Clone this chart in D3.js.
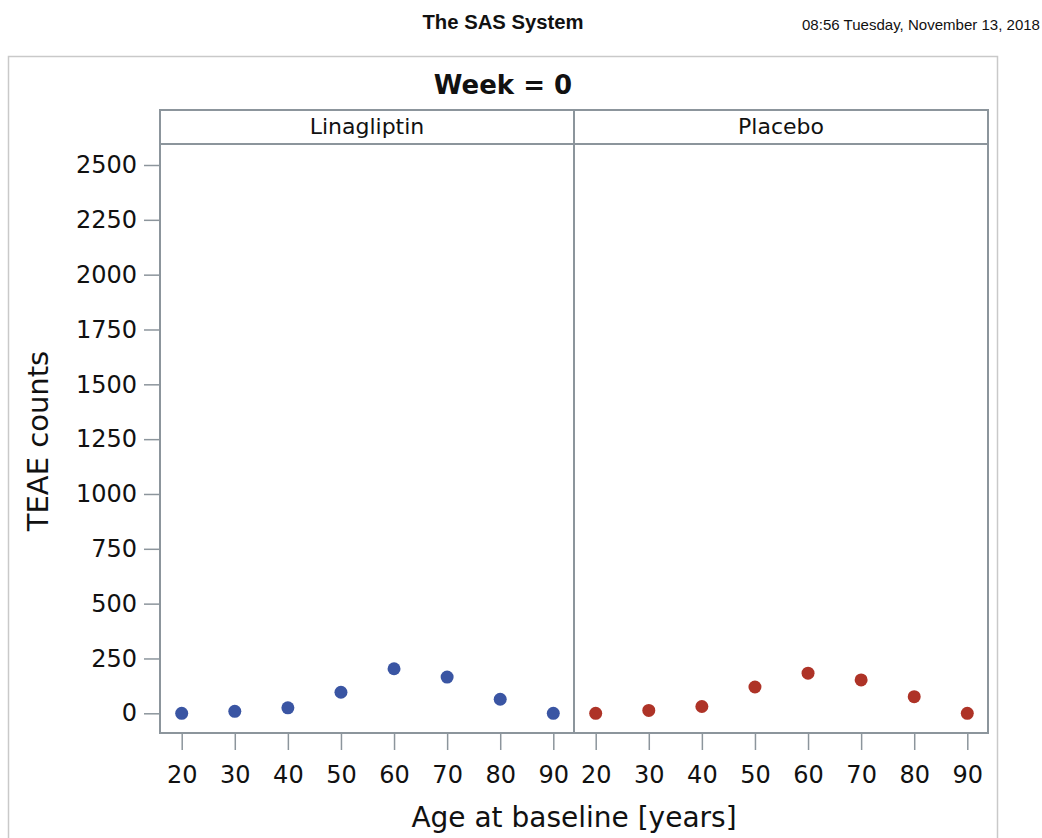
<!DOCTYPE html>
<html lang="en">
  <head>
    <meta charset="UTF-8">
    <title>The SAS System</title>
    <script src="https://cdn.jsdelivr.net/npm/d3@7"></script>
    <style>
      html, body {
        margin: 0;
        padding: 0;
        background: #fff;
      }
      svg text {
        font-family: 'DejaVu Sans', Verdana, sans-serif;
        fill: #111;
      }
    </style>
  </head>
  <body>
    <script>
      // values
      const groups = ['Linagliptin', 'Placebo'];
      const ages = [20, 30, 40, 50, 60, 70, 80, 90];
      const linagliptinCounts = [0, 9, 25, 96, 203, 165, 64, 0];
      const placeboCounts = [0, 13, 31, 120, 183, 152, 76, 0];
      const yTicks = [0, 250, 500, 750, 1000, 1250, 1500, 1750, 2000, 2250, 2500];
      const colors = ['#3a55a3', '#ae3327'];

      const width = 1042, height = 838;
      const frame = { left: 8.5, right: 997.5, top: 56.5 };
      const plot = { left: 160, right: 988, top: 144, bottom: 733 };
      const headerTop = 110;
      const panelW = (plot.right - plot.left) / groups.length;
      const axisColor = '#8c959c';
      const frameMid = (frame.left + frame.right) / 2;

      const svg = d3.select('body').append('svg')
        .attr('width', width)
        .attr('height', height);

      svg.append('text')
        .attr('x', frameMid).attr('y', 29)
        .attr('text-anchor', 'middle')
        .attr('textLength', 161)
        .attr('lengthAdjust', 'spacingAndGlyphs')
        .style('font-family', "'Liberation Sans Narrow', 'Liberation Sans', sans-serif")
        .style('font-weight', 'bold')
        .style('font-size', '20px')
        .text('The SAS System');

      svg.append('text')
        .attr('x', 1040).attr('y', 30)
        .attr('text-anchor', 'end')
        .attr('textLength', 238)
        .attr('lengthAdjust', 'spacingAndGlyphs')
        .style('font-family', "'Liberation Sans Narrow', 'Liberation Sans', sans-serif")
        .style('font-size', '15px')
        .text('08:56 Tuesday, November 13, 2018');

      // outer frame
      svg.append('rect')
        .attr('x', frame.left).attr('y', frame.top)
        .attr('width', frame.right - frame.left).attr('height', 800)
        .attr('fill', 'none')
        .attr('stroke', '#c9c9c9')
        .attr('stroke-width', 1.5);

      svg.append('text')
        .attr('x', frameMid).attr('y', 94)
        .attr('text-anchor', 'middle')
        .style('font-weight', 'bold')
        .style('font-size', '26px')
        .text('Week = 0');

      const y = d3.scaleLinear()
        .domain([0, 2500])
        .range([713.3, 165]);

      const yAxis = d3.axisLeft(y)
        .tickValues(yTicks)
        .tickSize(16)
        .tickPadding(7)
        .tickFormat(d3.format('d'));

      const yg = svg.append('g')
        .attr('transform', `translate(${plot.left},0)`)
        .call(yAxis);
      yg.select('.domain').remove();
      yg.selectAll('line').attr('stroke', axisColor).attr('stroke-width', 1.5);
      yg.selectAll('text').style('font-size', '24px').attr('fill', '#111');

      svg.append('text')
        .attr('transform', `translate(48,441) rotate(-90)`)
        .attr('text-anchor', 'middle')
        .style('font-size', '29px')
        .text('TEAE counts');

      const series = [linagliptinCounts, placeboCounts];

      groups.forEach((name, i) => {
        const x0 = plot.left + i * panelW;
        const x = d3.scalePoint()
          .domain(ages)
          .range([x0 + 21.7, x0 + panelW - 20.7]);

        // header cell
        svg.append('rect')
          .attr('x', x0).attr('y', headerTop)
          .attr('width', panelW).attr('height', plot.top - headerTop)
          .attr('fill', '#fff')
          .attr('stroke', axisColor)
          .attr('stroke-width', 2);

        svg.append('text')
          .attr('x', x0 + panelW / 2).attr('y', headerTop + 24)
          .attr('text-anchor', 'middle')
          .style('font-size', '22px')
          .text(name);

        // panel frame
        svg.append('rect')
          .attr('x', x0).attr('y', plot.top)
          .attr('width', panelW).attr('height', plot.bottom - plot.top)
          .attr('fill', 'none')
          .attr('stroke', axisColor)
          .attr('stroke-width', 2);

        const xAxis = d3.axisBottom(x)
          .tickSize(17)
          .tickPadding(16);

        const xg = svg.append('g')
          .attr('transform', `translate(0,${plot.bottom})`)
          .call(xAxis);
        xg.select('.domain').remove();
        xg.selectAll('line').attr('stroke', axisColor).attr('stroke-width', 1.5);
        xg.selectAll('text').style('font-size', '24px').attr('fill', '#111');

        svg.append('g')
          .selectAll('circle')
          .data(ages.map((a, k) => ({ age: a, count: series[i][k] })))
          .enter()
          .append('circle')
          .attr('cx', d => x(d.age))
          .attr('cy', d => y(d.count))
          .attr('r', 6.5)
          .attr('fill', colors[i]);
      });

      svg.append('text')
        .attr('x', (plot.left + plot.right) / 2).attr('y', 827)
        .attr('text-anchor', 'middle')
        .style('font-size', '28px')
        .text('Age at baseline [years]');
    </script>
  </body>
</html>
